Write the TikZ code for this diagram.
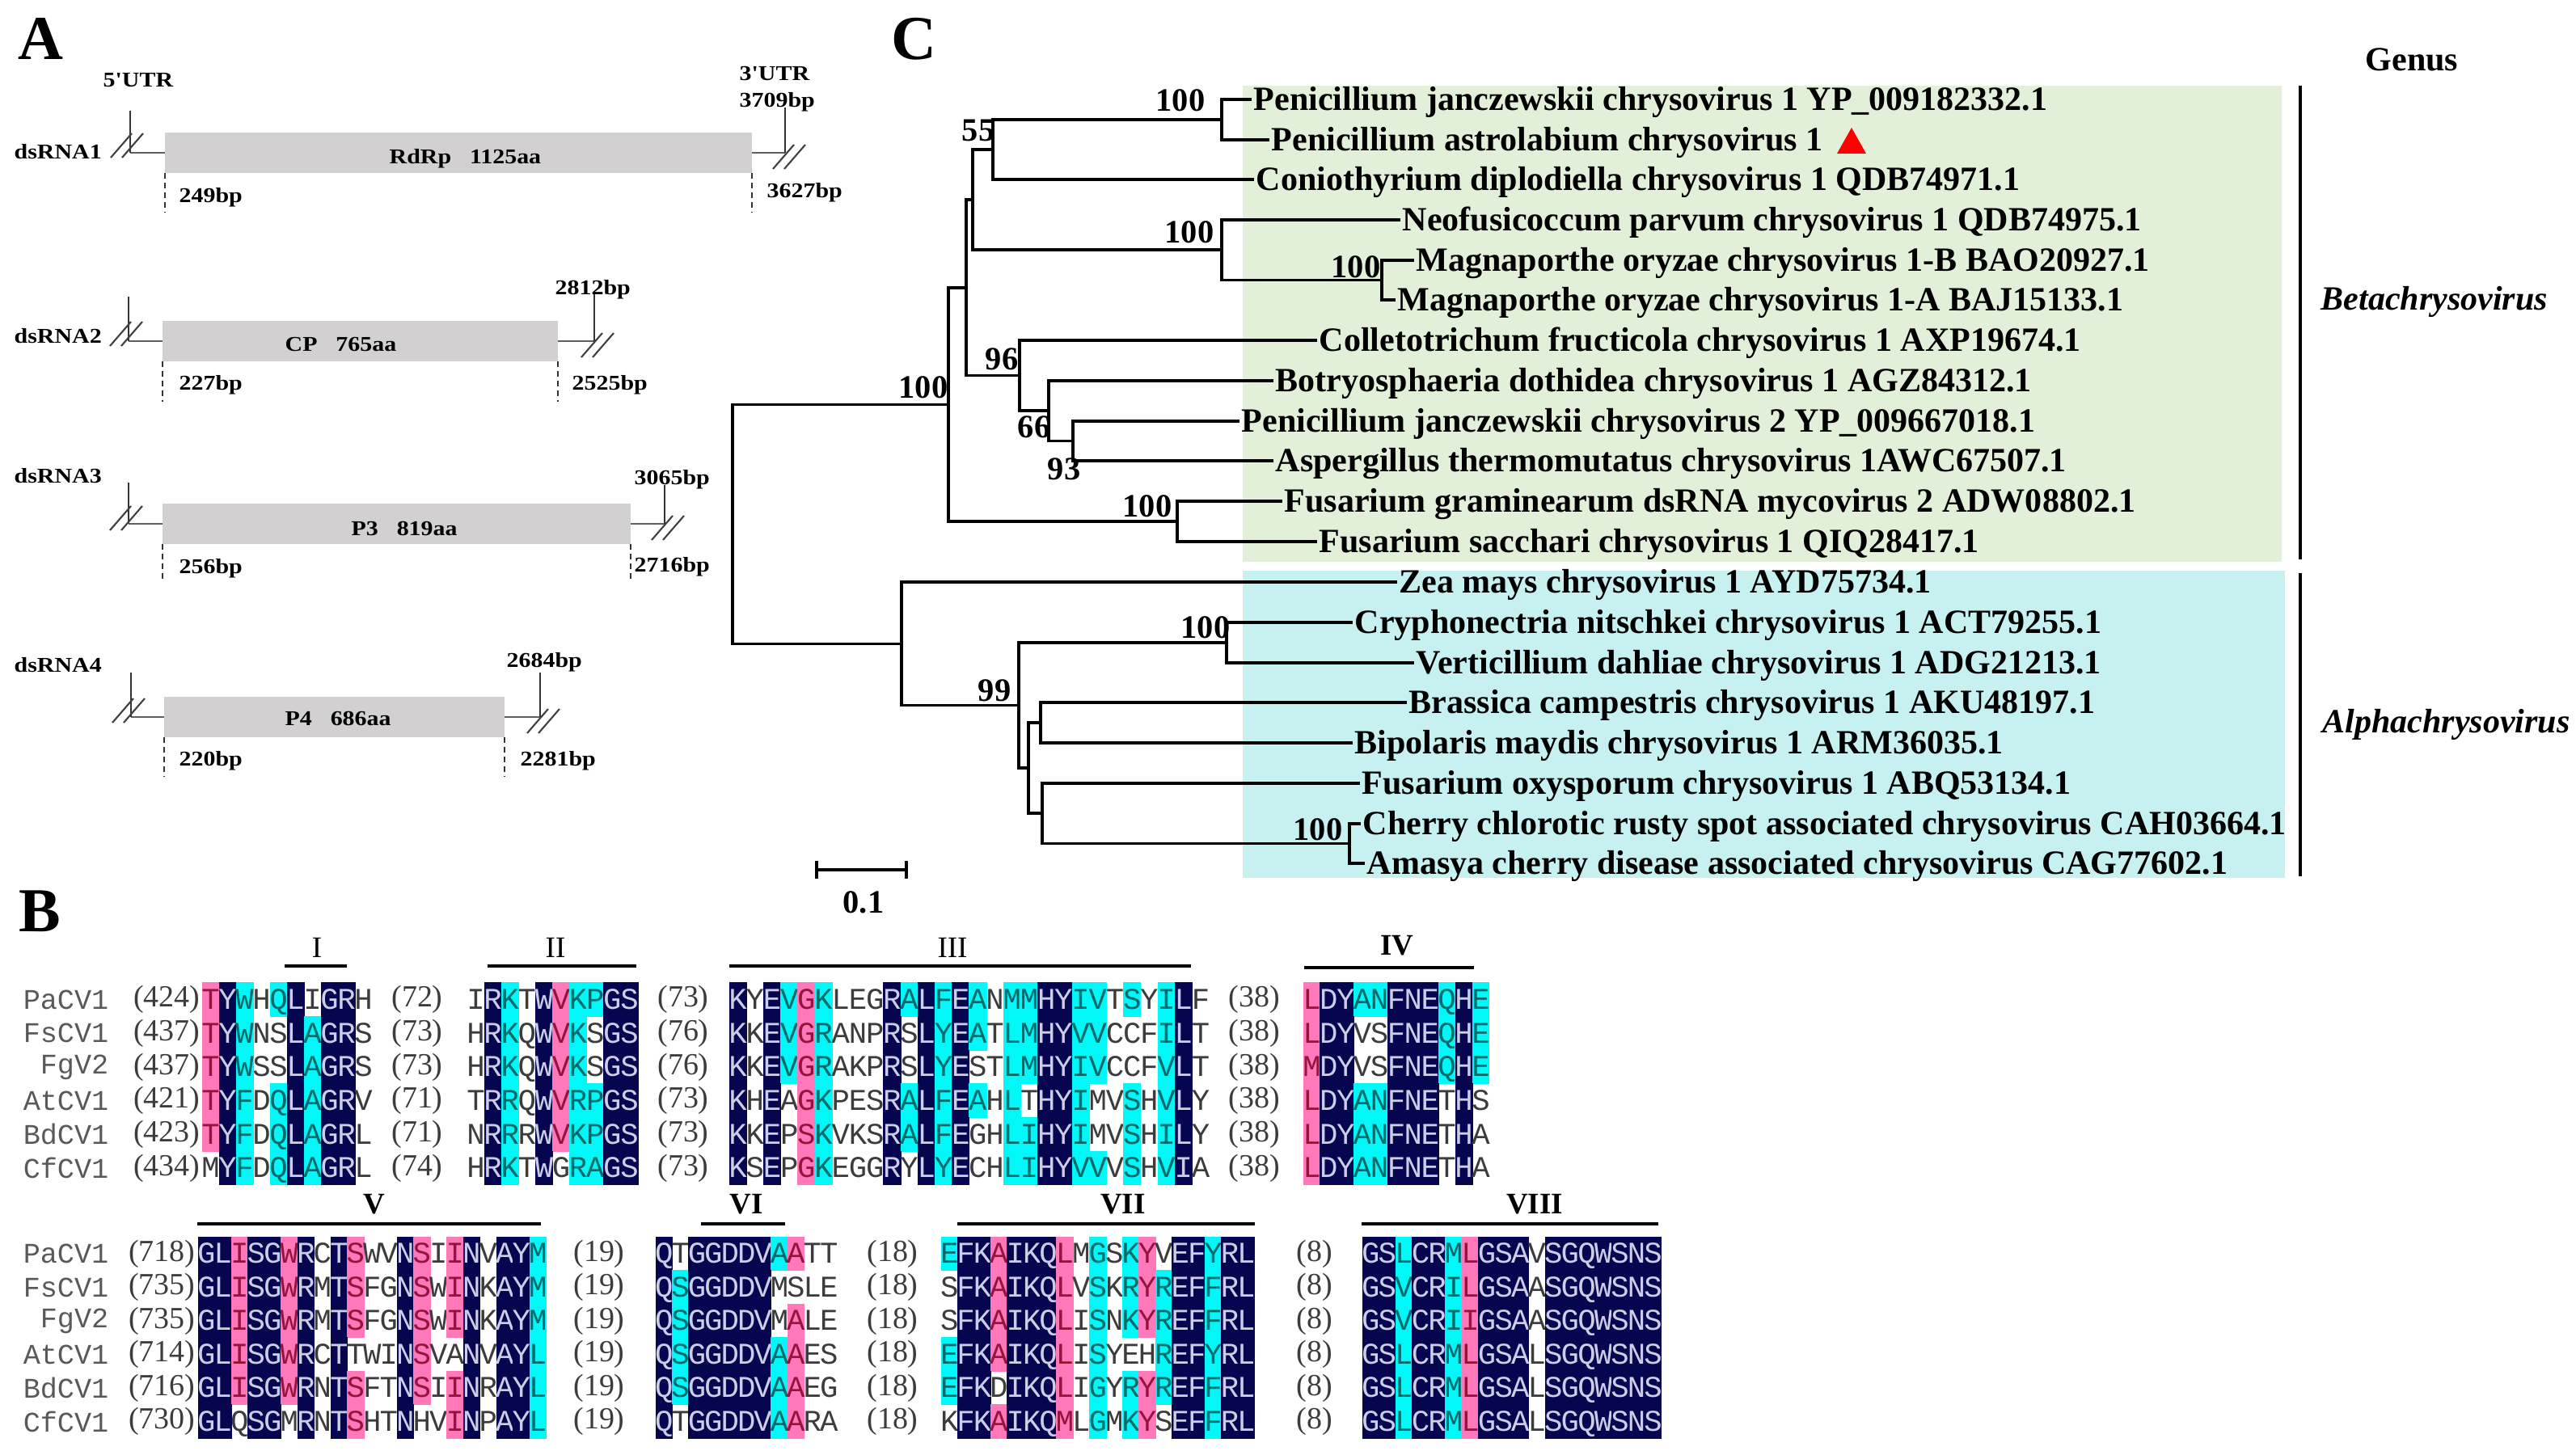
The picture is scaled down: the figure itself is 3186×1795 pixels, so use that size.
\documentclass[tikz,border=0pt]{standalone}
\usepackage{fontspec}
\setmainfont{Liberation Serif}
\newfontfamily\monof{Liberation Mono}
\newfontfamily\afont[FakeStretch=1.15]{Liberation Serif}
\definecolor{gbox}{RGB}{210,208,209}
\definecolor{gline}{RGB}{95,95,95}
\definecolor{lgreen}{RGB}{226,239,217}
\definecolor{lcyan}{RGB}{198,241,240}
\definecolor{navy}{RGB}{5,5,80}
\definecolor{aqua}{RGB}{0,248,248}
\definecolor{pinkk}{RGB}{255,120,185}
\definecolor{fgN}{RGB}{205,205,230}
\definecolor{fgC}{RGB}{0,105,105}
\definecolor{fgP}{RGB}{150,20,60}
\definecolor{fgW}{RGB}{60,60,60}
\def\alwalk#1#2\alend#3#4\alend{%
  \path[bg#1] ({\alx+\alk*\alw-0.5},{\aly-\alh/2-0.5}) rectangle ({\alx+(\alk+1)*\alw+0.5},{\aly+\alh/2+0.5});%
  \node[res,fg#1] at ({\alx+(\alk+0.5)*\alw},{\aly+12}) {#3};%
  \edef\alk{\the\numexpr\alk+1\relax}%
  \ifx\relax#2\relax\else\alwalk#2\alend#4\alend\fi}
\newcommand\alrow[5]{\def\alx{#1}\def\aly{#2}\def\alw{#3}\def\alk{0}\alwalk#4\alend#5\alend}
\newcommand\slashpair[2]{%
  \draw[slashl] ({#1-20},{#2+15}) -- ({#1+6},{#2-15});
  \draw[slashl] ({#1-6},{#2+15}) -- ({#1+20},{#2-15});}
\begin{document}
\begin{tikzpicture}[x=0.01cm,y=-0.01cm,
  tree/.style={line width=1pt,black},
  conn/.style={line width=0.8pt,gline},
  tickl/.style={line width=0.45pt,black!80},
  slashl/.style={line width=0.6pt,black!75},
  dashl/.style={line width=0.45pt,black!80,dash pattern=on 2pt off 1.4pt},
  atext/.style={font=\afont\bfseries\fontsize{7.4pt}{8pt}\selectfont,inner sep=0,anchor=base west},
  tlab/.style={font=\bfseries\fontsize{11.95pt}{13pt}\selectfont,inner sep=0,anchor=base west},
  bs/.style={font=\bfseries\fontsize{11.5pt}{12pt}\selectfont,inner sep=0},
  big/.style={font=\bfseries\fontsize{22pt}{24pt}\selectfont,inner sep=0},
  bgn/.style={fill=navy},bgc/.style={fill=aqua},bgp/.style={fill=pinkk},bgw/.style={},
  fgn/.style={text=fgN},fgc/.style={text=fgC},fgp/.style={text=fgP},fgw/.style={text=fgW},
  res/.style={font=\monof\fontsize{10.6pt}{11pt}\selectfont,inner sep=0,anchor=base},
  num/.style={font=\fontsize{10.8pt}{11pt}\selectfont,text=fgW,inner sep=0},
  nm/.style={font=\monof\fontsize{10pt}{10pt}\selectfont,text=black!65,inner sep=0,anchor=east},
  mot/.style={font=\fontsize{10.5pt}{11pt}\selectfont,inner sep=0},
  motb/.style={font=\bfseries\fontsize{10.5pt}{11pt}\selectfont,inner sep=0},
  bar/.style={line width=1.4pt}]
\fill[white] (0,0) rectangle (3186,1795);
\useasboundingbox (0,0) rectangle (3186,1795);

%================ Panel A =================
\node[big] (pA) at (50,48) {A};
% row 1
\draw[conn] (161,189) -- (204,189);
\draw[conn] (930,189) -- (971,189);
\fill[gbox] (204,164) rectangle (930,214);
\draw[tickl] (161,137) -- (161,189);
\draw[tickl] (971,133) -- (971,189);
\slashpair{157}{180}\slashpair{976}{194}
\draw[dashl] (204,214) -- (204,263);
\draw[dashl] (930,214) -- (930,263);
\node[atext] (a1) at (127,108) {5'UTR};
\node[atext] (a2) at (914,100) {3'UTR};
\node[atext] (a3) at (914,133) {3709bp};
\node[atext] (a4) at (17,197) {dsRNA1};
\node[atext] (a5) at (481,203) {RdRp\hspace{6.5pt}1125aa};
\node[atext] (a6) at (221,251) {249bp};
\node[atext] (a7) at (948,245) {3627bp};
% row 2
\draw[conn] (159,422) -- (201,422);
\draw[conn] (690,422) -- (735,422);
\fill[gbox] (201,397) rectangle (690,447);
\draw[tickl] (159,367) -- (159,422);
\draw[tickl] (735,363) -- (735,422);
\slashpair{156}{413}\slashpair{739}{427}
\draw[dashl] (201,447) -- (201,497);
\draw[dashl] (690,447) -- (690,497);
\node[atext] (b1) at (17,425) {dsRNA2};
\node[atext] (b2) at (352,435) {CP\hspace{6.5pt}765aa};
\node[atext] (b3) at (686,365) {2812bp};
\node[atext] (b4) at (221,483) {227bp};
\node[atext] (b5) at (707,483) {2525bp};
% row 3
\draw[conn] (159,648) -- (201,648);
\draw[conn] (780,648) -- (822,648);
\fill[gbox] (201,623) rectangle (780,673);
\draw[tickl] (159,597) -- (159,648);
\draw[tickl] (822,600) -- (822,648);
\slashpair{156}{641}\slashpair{826}{653}
\draw[dashl] (201,673) -- (201,720);
\draw[dashl] (780,673) -- (780,720);
\node[atext] (c1) at (17,598) {dsRNA3};
\node[atext] (c2) at (434,663) {P3\hspace{6.5pt}819aa};
\node[atext] (c3) at (784,600) {3065bp};
\node[atext] (c4) at (221,710) {256bp};
\node[atext] (c5) at (784,708) {2716bp};
% row 4
\draw[conn] (162,887) -- (203,887);
\draw[conn] (624,887) -- (668,887);
\fill[gbox] (203,862) rectangle (624,912);
\draw[tickl] (162,832) -- (162,887);
\draw[tickl] (668,832) -- (668,887);
\slashpair{159}{879}\slashpair{672}{892}
\draw[dashl] (203,912) -- (203,960);
\draw[dashl] (624,912) -- (624,960);
\node[atext] (d1) at (17,832) {dsRNA4};
\node[atext] (d2) at (352,898) {P4\hspace{6.5pt}686aa};
\node[atext] (d3) at (626,826) {2684bp};
\node[atext] (d4) at (221,948) {220bp};
\node[atext] (d5) at (643,948) {2281bp};

%================ Panel C =================
\node[big] (pC) at (1130,48) {C};
\fill[lgreen] (1537,106) rectangle (2822,695);
\fill[lcyan] (1537,706) rectangle (2826,1086);
% internal nodes
\coordinate (nR) at (906,648.4);
\coordinate (nBeta) at (1173,500.4);
\coordinate (nAlpha) at (1115,796.3);
\coordinate (nB) at (1195,355.9);
\coordinate (nBp) at (1203,247.1);
\coordinate (n55) at (1228,185);
\coordinate (nPen) at (1511,148);
\coordinate (nNeo) at (1511,309.25);
\coordinate (nMag) at (1709,346.5);
\coordinate (n96) at (1261,464.6);
\coordinate (n66) at (1297,508.25);
\coordinate (n93) at (1327,545.5);
\coordinate (nFus) at (1456,645);
\coordinate (n99) at (1260,872.6);
\coordinate (nCry) at (1517,795);
\coordinate (nX) at (1272,950.1);
\coordinate (nBrBi) at (1287,894);
\coordinate (nFoCh) at (1289,1006.25);
\coordinate (nCh) at (1669,1043.5);
% tips
\foreach \i/\yy/\xx in {1/123/1550,2/173/1572,3/222/1553,4/272/1734,5/322/1751,6/371/1728,7/421/1631,8/471/1577,9/521/1535,10/570/1577,11/620/1588,12/670/1631,13/720/1730,14/770/1675,15/820/1751,16/869/1742,17/919/1675,18/969/1684,19/1019/1685,20/1068/1690}
  {\coordinate (e\i) at (\xx-2,\yy);}
\node[tlab] (l1) at (1550,137) {Penicillium janczewskii chrysovirus 1 YP\_009182332.1};
\node[tlab] (l2) at (1572,187) {Penicillium astrolabium chrysovirus 1};
\node[tlab] (l3) at (1553,236) {Coniothyrium diplodiella chrysovirus 1 QDB74971.1};
\node[tlab] (l4) at (1734,286) {Neofusicoccum parvum chrysovirus 1 QDB74975.1};
\node[tlab] (l5) at (1751,336) {Magnaporthe oryzae chrysovirus 1-B BAO20927.1};
\node[tlab] (l6) at (1728,385) {Magnaporthe oryzae chrysovirus 1-A BAJ15133.1};
\node[tlab] (l7) at (1631,435) {Colletotrichum fructicola chrysovirus 1 AXP19674.1};
\node[tlab] (l8) at (1577,485) {Botryosphaeria dothidea chrysovirus 1 AGZ84312.1};
\node[tlab] (l9) at (1535,535) {Penicillium janczewskii chrysovirus 2 YP\_009667018.1};
\node[tlab] (l10) at (1577,584) {Aspergillus thermomutatus chrysovirus 1AWC67507.1};
\node[tlab] (l11) at (1588,634) {Fusarium graminearum dsRNA mycovirus 2 ADW08802.1};
\node[tlab] (l12) at (1631,684) {Fusarium sacchari chrysovirus 1 QIQ28417.1};
\node[tlab] (l13) at (1730,734) {Zea mays chrysovirus 1 AYD75734.1};
\node[tlab] (l14) at (1675,784) {Cryphonectria nitschkei chrysovirus 1 ACT79255.1};
\node[tlab] (l15) at (1751,834) {Verticillium dahliae chrysovirus 1 ADG21213.1};
\node[tlab] (l16) at (1742,883) {Brassica campestris chrysovirus 1 AKU48197.1};
\node[tlab] (l17) at (1675,933) {Bipolaris maydis chrysovirus 1 ARM36035.1};
\node[tlab] (l18) at (1684,983) {Fusarium oxysporum chrysovirus 1 ABQ53134.1};
\node[tlab] (l19) at (1685,1033) {Cherry chlorotic rusty spot associated chrysovirus CAH03664.1};
\node[tlab] (l20) at (1690,1082) {Amasya cherry disease associated chrysovirus CAG77602.1};
\fill[red] (2272,190) -- (2308,190) -- (2290,158) -- cycle;
% branches
\draw[tree] (nR) |- (nBeta); \draw[tree] (nR) |- (nAlpha);
\draw[tree] (nBeta) |- (nB); \draw[tree] (nBeta) |- (nFus);
\draw[tree] (nB) |- (nBp); \draw[tree] (nB) |- (n96);
\draw[tree] (nBp) |- (n55); \draw[tree] (nBp) |- (nNeo);
\draw[tree] (n55) |- (nPen); \draw[tree] (n55) |- (e3);
\draw[tree] (nPen) |- (e1); \draw[tree] (nPen) |- (e2);
\draw[tree] (nNeo) |- (e4); \draw[tree] (nNeo) |- (nMag);
\draw[tree] (nMag) |- (e5); \draw[tree] (nMag) |- (e6);
\draw[tree] (n96) |- (e7); \draw[tree] (n96) |- (n66);
\draw[tree] (n66) |- (e8); \draw[tree] (n66) |- (n93);
\draw[tree] (n93) |- (e9); \draw[tree] (n93) |- (e10);
\draw[tree] (nFus) |- (e11); \draw[tree] (nFus) |- (e12);
\draw[tree] (nAlpha) |- (e13); \draw[tree] (nAlpha) |- (n99);
\draw[tree] (n99) |- (nCry); \draw[tree] (n99) |- (nX);
\draw[tree] (nCry) |- (e14); \draw[tree] (nCry) |- (e15);
\draw[tree] (nX) |- (nBrBi); \draw[tree] (nX) |- (nFoCh);
\draw[tree] (nBrBi) |- (e16); \draw[tree] (nBrBi) |- (e17);
\draw[tree] (nFoCh) |- (e18); \draw[tree] (nFoCh) |- (nCh);
\draw[tree] (nCh) |- (e19); \draw[tree] (nCh) |- (e20);
% bootstrap
\node[bs] (s1) at (1460,124) {100};
\node[bs] (s2) at (1210,161) {55};
\node[bs] (s3) at (1471,287) {100};
\node[bs] (s4) at (1677,330) {100};
\node[bs] (s5) at (1239,444) {96};
\node[bs] (s6) at (1142,479) {100};
\node[bs] (s7) at (1279,528) {66};
\node[bs] (s8) at (1316,580) {93};
\node[bs] (s9) at (1419,626) {100};
\node[bs] (s10) at (1491,776) {100};
\node[bs] (s11) at (1230,854) {99};
\node[bs] (s12) at (1630,1026) {100};
% scale bar
\coordinate (sb1) at (1010,1076); \coordinate (sb2) at (1121,1076);
\draw[tree] (sb1) -- (sb2);
\draw[tree] ([yshift=0.11cm]sb1) -- ([yshift=-0.11cm]sb1);
\draw[tree] ([yshift=0.11cm]sb2) -- ([yshift=-0.11cm]sb2);
\node[bs] (sbl) at (1068,1116) {0.1};
% genus
\node[tlab,anchor=center] (gen) at (2983,74) {Genus};
\draw[line width=0.9pt] (2845,106) -- (2845,692);
\draw[line width=0.9pt] (2845,709) -- (2845,1084);
\node[tlab,anchor=west,font=\bfseries\itshape\fontsize{11.95pt}{13pt}\selectfont] (gb) at (2870,373) {Betachrysovirus};
\node[tlab,anchor=west,font=\bfseries\itshape\fontsize{11.95pt}{13pt}\selectfont] (ga) at (2872,896) {Alphachrysovirus};

%================ Panel B =================
\node[big] (pB) at (49,1127) {B};
% motif bars group 1
\node[mot] (m1) at (392,1172) {I};   \draw[bar] (352,1195) -- (429,1195);
\node[mot] (m2) at (687,1172) {II};  \draw[bar] (603,1195) -- (787,1195);
\node[mot] (m3) at (1178,1172) {III};\draw[bar] (902,1195) -- (1473,1195);
\node[motb] (m4) at (1728,1170) {IV};\draw[bar] (1613,1197) -- (1823,1197);
% names/numbers group 1
\foreach \nmv/\yy/\a/\b/\c [count=\k] in {PaCV1/1236.5/424/72/73, FsCV1/1278.2/437/73/76, FgV2/1319.9/437/73/76, AtCV1/1361.6/421/71/73, BdCV1/1403.3/423/71/73, CfCV1/1445.0/434/74/73}{
  \node[nm] (na\k) at (135,\yy) {\nmv};
  \node[num,anchor=east] (nb\k) at (248,\yy) {(\a)};
  \node[num] (nc\k) at (516,\yy) {(\b)};
  \node[num] (nd\k) at (845,\yy) {(\c)};
  \node[num] (ne\k) at (1551,\yy) {(38)};
}
\def\alh{41.7}
% block I
\alrow{250}{1236.5}{21.0}{pncwcnwnnw}{TYWHQLIGRH}
\alrow{250}{1278.2}{21.0}{pncwwncnnw}{TYWNSLAGRS}
\alrow{250}{1319.9}{21.0}{pncwwncnnw}{TYWSSLAGRS}
\alrow{250}{1361.6}{21.0}{pncwcncnnw}{TYFDQLAGRV}
\alrow{250}{1403.3}{21.0}{pncwcncnnw}{TYFDQLAGRL}
\alrow{250}{1445.0}{21.0}{wncwcncnnw}{MYFDQLAGRL}
% block II
\alrow{578}{1236.5}{21.1}{wncwnpccnn}{IRKTWVKPGS}
\alrow{578}{1278.2}{21.1}{wncwnpcwnn}{HRKQWVKSGS}
\alrow{578}{1319.9}{21.1}{wncwnpcwnn}{HRKQWVKSGS}
\alrow{578}{1361.6}{21.1}{wncwnpccnn}{TRRQWVRPGS}
\alrow{578}{1403.3}{21.1}{wncwnpccnn}{NRRRWVKPGS}
\alrow{578}{1445.0}{21.1}{wncwnwccnn}{HRKTWGRAGS}
% block III
\alrow{902}{1236.5}{21.2}{nwncpcwwwncncncwccnnccwcwcnw}{KYEVGKLEGRALFEANMMHYIVTSYILF}
\alrow{902}{1278.2}{21.2}{nwncpcwwwnwncncwccnnccwwwcnw}{KKEVGRANPRSLYEATLMHYVVCCFILT}
\alrow{902}{1319.9}{21.2}{nwncpcwwwnwncnwwccnnccwwwcnw}{KKEVGRAKPRSLYESTLMHYIVCCFVLT}
\alrow{902}{1361.6}{21.2}{nwnwpcwwwncncncwcwnncwwcwcnw}{KHEAGKPESRALFEAHLTHYIMVSHVLY}
\alrow{902}{1403.3}{21.2}{nwnwpcwwwncncnwwccnncwwcwcnw}{KKEPSKVKSRALFEGHLIHYIMVSHILY}
\alrow{902}{1445.0}{21.2}{nwnwpcwwwnwncnwwccnnccwcwcnw}{KSEPGKEGGRYLYECHLIHYVVVSHVIA}
% block IV
\alrow{1612}{1236.5}{20.9}{pnnccnnncnc}{LDYANFNEQHE}
\alrow{1612}{1278.2}{20.9}{pnnwwnnncnc}{LDYVSFNEQHE}
\alrow{1612}{1319.9}{20.9}{pnnwwnnncnc}{MDYVSFNEQHE}
\alrow{1612}{1361.6}{20.9}{pnnccnnnwnw}{LDYANFNETHS}
\alrow{1612}{1403.3}{20.9}{pnnccnnnwnw}{LDYANFNETHA}
\alrow{1612}{1445.0}{20.9}{pnnccnnnwnw}{LDYANFNETHA}
% motif bars group 2
\node[motb] (m5) at (463,1490) {V};    \draw[bar] (244,1514) -- (669,1514);
\node[motb] (m6) at (923,1490) {VI};   \draw[bar] (867,1514) -- (971,1514);
\node[motb] (m7) at (1389,1490) {VII}; \draw[bar] (1184,1514) -- (1552,1514);
\node[motb] (m8) at (1898,1490) {VIII};\draw[bar] (1684,1514) -- (2051,1514);
\foreach \nmv/\yy/\a [count=\k] in {PaCV1/1551/718, FsCV1/1592.5/735, FgV2/1634/735, AtCV1/1675.5/714, BdCV1/1717/716, CfCV1/1758.5/730}{
  \node[nm] (nf\k) at (135,\yy) {\nmv};
  \node[num,anchor=east] (ng\k) at (242,\yy) {(\a)};
  \node[num] (nh\k) at (741,\yy) {(19)};
  \node[num] (ni\k) at (1104,\yy) {(18)};
  \node[num] (nj\k) at (1626,\yy) {(8)};
}
\def\alh{41.5}
% block V
\alrow{245}{1551}{20.5}{nnpnnpnwnpwwnpwpnwnnc}{GLISGWRCTSWVNSIINVAYM}
\alrow{245}{1592.5}{20.5}{nnpnnpnwnpwwnpwpnwnnc}{GLISGWRMTSFGNSWINKAYM}
\alrow{245}{1634}{20.5}{nnpnnpnwnpwwnpwpnwnnc}{GLISGWRMTSFGNSWINKAYM}
\alrow{245}{1675.5}{20.5}{nnpnnpnwnwwwnpwwnwnnc}{GLISGWRCTTWINSVANVAYL}
\alrow{245}{1717}{20.5}{nnpnnpnwnpwwnpwpnwnnc}{GLISGWRNTSFTNSIINRAYL}
\alrow{245}{1758.5}{20.5}{nnwnnwnwnpwwnwwpnwnnc}{GLQSGMRNTSHTNHVINPAYL}
% block VI
\alrow{811}{1551}{20.4}{nwnnnnncpww}{QTGGDDVAATT}
\alrow{811}{1592.5}{20.4}{ncnnnnnwwww}{QSGGDDVMSLE}
\alrow{811}{1634}{20.4}{ncnnnnnwpww}{QSGGDDVMALE}
\alrow{811}{1675.5}{20.4}{ncnnnnncpww}{QSGGDDVAAES}
\alrow{811}{1717}{20.4}{ncnnnnncpww}{QSGGDDVAAEG}
\alrow{811}{1758.5}{20.4}{nwnnnnncpww}{QTGGDDVAARA}
% block VII
\alrow{1164}{1551}{20.4}{cnnpnnnpwcwcpwnncnn}{EFKAIKQLMGSKYVEFYRL}
\alrow{1164}{1592.5}{20.4}{wnnpnnnpwcwcpcnncnn}{SFKAIKQLVSKRYREFFRL}
\alrow{1164}{1634}{20.4}{wnnpnnnpwcwcpcnncnn}{SFKAIKQLISNKYREFFRL}
\alrow{1164}{1675.5}{20.4}{cnnpnnnpwcwwwcnncnn}{EFKAIKQLISYEHREFYRL}
\alrow{1164}{1717}{20.4}{cnnwnnnpwcwcpcnncnn}{EFKDIKQLIGYRYREFFRL}
\alrow{1164}{1758.5}{20.4}{wnnpnnnpwcwcpwnncnn}{KFKAIKQMLGMKYSEFFRL}
% block VIII
\alrow{1685}{1551}{20.55}{nncnncpnnnwnnnnnnn}{GSLCRMLGSAVSGQWSNS}
\alrow{1685}{1592.5}{20.55}{nncnncpnnnwnnnnnnn}{GSVCRILGSAASGQWSNS}
\alrow{1685}{1634}{20.55}{nncnncpnnnwnnnnnnn}{GSVCRIIGSAASGQWSNS}
\alrow{1685}{1675.5}{20.55}{nncnncpnnnwnnnnnnn}{GSLCRMLGSALSGQWSNS}
\alrow{1685}{1717}{20.55}{nncnncpnnnwnnnnnnn}{GSLCRMLGSALSGQWSNS}
\alrow{1685}{1758.5}{20.55}{nncnncpnnnwnnnnnnn}{GSLCRMLGSALSGQWSNS}
\end{tikzpicture}
\end{document}
